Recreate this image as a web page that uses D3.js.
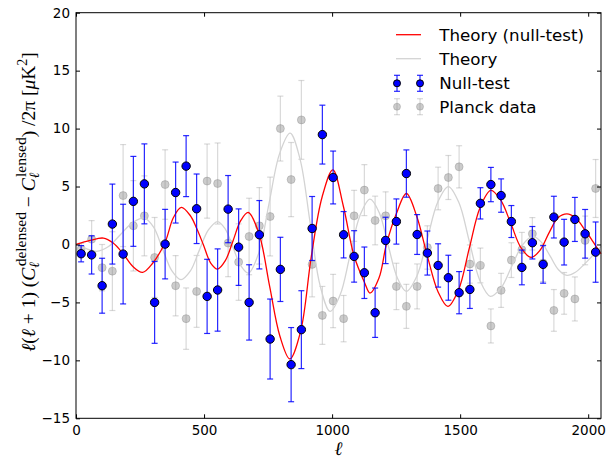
<!DOCTYPE html>
<html>
<head>
<meta charset="utf-8">
<script src="https://cdn.jsdelivr.net/npm/d3@7"></script>
<style>
  body { margin: 0; background: #fff; }
  .tick text { font-family: "DejaVu Sans", sans-serif; font-size: 13.5px; fill: #000; }
  .legendText { font-family: "DejaVu Sans", sans-serif; font-size: 16.7px; }
  .mathText { font-family: "Liberation Serif", "DejaVu Serif", serif; }
</style>
</head>
<body>
<div id="chart"></div>
<script>
var svgWidth = 615
var svgHeight = 458

var margin = {
    top: 12.7,
    bottom: 39.7,
    right: 14,
    left: 76
}

var width = svgWidth - margin.left - margin.right;
var height = svgHeight - margin.top - margin.bottom;

// multipole bin centres
var ells = [20, 61, 102, 142, 184, 224, 267, 307, 348, 389, 430, 471, 512, 553, 594, 635, 676, 716, 758, 798,
    840, 880, 922, 962, 1004, 1045, 1086, 1126, 1168, 1209, 1251, 1290, 1332, 1372, 1414, 1454, 1496, 1538, 1579, 1620,
    1660, 1700, 1741, 1782, 1824, 1866, 1906, 1948, 1988, 2029];

// null-test points
var nullVals = [-0.8, -0.9, -3.56, 1.76, -0.83, 3.72, 5.23, -5.0, 0.03, 4.48, 6.76, 3.08, -4.48, -3.93, 3.05, -0.23, -5.0, 0.84, -8.16, -2.15,
    -10.37, -7.35, 1.38, 9.48, 5.78, 0.84, -1.03, -2.44, -5.89, 0.35, 1.98, 6.12, 0.86, -0.74, -1.81, -2.87, -4.16, -3.88, 3.55, 5.17,
    4.22, 1.98, -1.98, 0.15, -1.72, 2.36, 0.2, 2.16, 0.92, -0.66];
var nullErrs = [0.7, 1.65, 2.37, 3.45, 4.3, 3.88, 3.45, 3.53, 3.0, 2.63, 2.63, 3.0, 3.2, 3.55, 2.9, 3.3, 3.25, 2.95, 3.45, 2.77,
    3.2, 3.36, 2.76, 2.54, 2.28, 2.0, 2.22, 2.22, 2.13, 2.0, 1.95, 2.04, 1.72, 1.9, 1.87, 1.94, 1.82, 1.64, 1.35, 1.48,
    1.44, 1.38, 1.5, 1.4, 1.62, 1.8, 1.97, 1.9, 2.1, 2.6];

// planck points
var planckVals = [-0.4, 0.46, -2.0, -2.3, 4.22, 1.61, 2.47, -1.12, 5.17, -3.56, -6.4, -4.05, 5.47, 5.26, 0.12, -1.52, 0.69, 1.61, 2.41, 10.0,
    5.6, 10.75, -1.72, -6.12, -4.88, -6.4, 2.47, 4.69, 2.07, 2.47, -3.62, -5.34, -3.62, -0.26, 4.83, 5.78, 6.7, -1.69, -1.81, -7.03,
    -3.96, -1.35, -0.46, 0.92, -1.6, -5.69, -4.22, -4.7, 0.35, 4.83];
var planckErrs = [0.5, 1.6, 2.0, 3.4, 4.4, 3.9, 3.45, 3.45, 3.0, 2.6, 2.65, 3.1, 3.2, 3.5, 2.9, 3.3, 3.3, 3.3, 3.4, 2.8,
    3.2, 3.4, 2.8, 2.5, 2.3, 2.0, 2.2, 2.2, 2.1, 2.07, 2.0, 1.9, 1.94, 1.87, 1.84, 1.9, 1.82, 1.65, 1.5, 1.47,
    1.47, 1.5, 1.5, 1.4, 1.6, 1.8, 1.8, 1.9, 2.1, 2.5];

// theory (null-test) curve
var nullTheoryEll = [0, 55, 107, 145, 184, 222, 260, 300, 348, 380, 411, 446, 471, 497, 526, 553, 583, 613, 643, 673,
    715, 756, 796, 835, 877, 919, 961, 1003, 1044, 1086, 1127, 1148, 1183, 1212, 1250, 1290, 1331, 1372, 1414, 1452,
    1494, 1536, 1578, 1620, 1659, 1698, 1738, 1777, 1812, 1847, 1882, 1917, 1950, 1987, 2020, 2050];
var nullTheoryVals = [0.0, 0.35, 0.55, 0.12, -0.8, -1.9, -2.41, -1.6, 0.2, 2.3, 3.2, 2.5, 1.4, 0.0, -1.6, -2.12, -1.4, 0.3, 2.05, 2.76,
    0.9, -3.6, -7.9, -9.88, -7.5, -1.0, 4.1, 6.44, 3.3, -1.0, -3.3, -4.19, -2.9, 0.0, 2.6, 4.4, 2.4, -1.0, -4.1, -5.34,
    -3.9, -0.3, 3.2, 4.66, 3.8, 1.8, -0.3, -1.12, -0.5, 1.0, 2.3, 2.64, 2.3, 1.27, 0.2, -0.8];

// theory curve
var theoryEll = [0, 40, 80, 127, 173, 220, 267, 303, 338, 374, 410, 446, 481, 517, 553, 583, 613, 643, 673, 714,
    754, 795, 836, 875, 914, 953, 992, 1031, 1070, 1109, 1148, 1184, 1219, 1255, 1290, 1331, 1372, 1413, 1454, 1495,
    1536, 1577, 1618, 1660, 1701, 1743, 1784, 1817, 1851, 1884, 1917, 1950, 1985, 2020, 2050];
var theoryVals = [0.0, -0.35, -0.6, -0.18, 0.84, 1.86, 2.28, 1.5, -0.38, -2.26, -3.04, -2.31, -0.53, 1.25, 1.98, 1.33, -0.25, -1.82, -2.47, -0.71,
    3.57, 7.84, 9.6, 7.35, 1.91, -3.53, -5.78, -4.37, -0.94, 2.5, 3.91, 2.75, -0.07, -2.89, -4.05, -2.73, 0.48, 3.68, 5.0, 3.62,
    0.26, -3.1, -4.48, -3.73, -1.9, -0.06, 0.69, 0.2, -0.99, -2.18, -2.67, -2.4, -1.7, -0.9, -0.17];

var xTicks = [0, 500, 1000, 1500, 2000];
var yTicks = [-15, -10, -5, 0, 5, 10, 15, 20];

var svg = d3.select("#chart")
    .append("svg")
    .attr("width", svgWidth)
    .attr("height", svgHeight)

var chartGroup = svg.append("g")
    .attr("transform", `translate(${margin.left}, ${margin.top})`);

var xLinearScale = d3.scaleLinear()
    .domain([0, 2050])
    .range([0, width]);

var yLinearScale = d3.scaleLinear()
    .domain([-15, 20])
    .range([height, 0]);

var plotArea = chartGroup.append("g");

function drawErrorbars(g, vals, errs, color, opacity) {
    var bars = g.append("g")
        .attr("stroke", color)
        .attr("stroke-opacity", opacity)
        .attr("stroke-width", 1.2)
        .attr("fill", "none");
    ells.forEach((l, i) => {
        var x = xLinearScale(l);
        var y0 = yLinearScale(vals[i] - errs[i]);
        var y1 = yLinearScale(vals[i] + errs[i]);
        bars.append("line").attr("x1", x).attr("x2", x).attr("y1", y0).attr("y2", y1);
        bars.append("line").attr("x1", x - 3).attr("x2", x + 3).attr("y1", y0).attr("y2", y0);
        bars.append("line").attr("x1", x - 3).attr("x2", x + 3).attr("y1", y1).attr("y2", y1);
    });
}

// planck data (behind)
drawErrorbars(plotArea, planckVals, planckErrs, "gray", 0.3);
plotArea.append("g").selectAll("circle")
    .data(planckVals)
    .enter()
    .append("circle")
    .attr("cx", (d, i) => xLinearScale(ells[i]))
    .attr("cy", d => yLinearScale(d))
    .attr("r", 4)
    .attr("fill", "gray")
    .attr("fill-opacity", 0.4)
    .attr("stroke", "gray")
    .attr("stroke-opacity", 0.35);

var line = d3.line()
    .x(d => xLinearScale(d[0]))
    .y(d => yLinearScale(d[1]))
    .curve(d3.curveCatmullRom.alpha(0.5));

plotArea.append("path")
    .datum(theoryEll.map((l, i) => [l, theoryVals[i]]))
    .attr("d", line)
    .attr("fill", "none")
    .attr("stroke", "#d3d3d3")
    .attr("stroke-width", 1.3);

plotArea.append("path")
    .datum(nullTheoryEll.map((l, i) => [l, nullTheoryVals[i]]))
    .attr("d", line)
    .attr("fill", "none")
    .attr("stroke", "red")
    .attr("stroke-width", 1.3);

// null-test data
drawErrorbars(plotArea, nullVals, nullErrs, "blue", 0.85);
plotArea.append("g").selectAll("circle")
    .data(nullVals)
    .enter()
    .append("circle")
    .attr("cx", (d, i) => xLinearScale(ells[i]))
    .attr("cy", d => yLinearScale(d))
    .attr("r", 4.2)
    .attr("fill", "blue")
    .attr("stroke", "black")
    .attr("stroke-width", 1);

// axes, ticks pointing inwards on all four sides
var bottomAxis = d3.axisBottom(xLinearScale).tickValues(xTicks).tickSizeInner(-4).tickSizeOuter(0).tickPadding(7)
    .tickFormat(d3.format("d"));
var topAxis = d3.axisTop(xLinearScale).tickValues(xTicks).tickSizeInner(-4).tickSizeOuter(0).tickFormat("");
var leftAxis = d3.axisLeft(yLinearScale).tickValues(yTicks).tickSizeInner(-4).tickSizeOuter(0).tickPadding(6);
var rightAxis = d3.axisRight(yLinearScale).tickValues(yTicks).tickSizeInner(-4).tickSizeOuter(0).tickFormat("");

chartGroup.append("g")
    .attr("transform", `translate(0, ${height})`)
    .call(bottomAxis);
chartGroup.append("g").call(topAxis);
chartGroup.append("g").call(leftAxis);
chartGroup.append("g")
    .attr("transform", `translate(${width}, 0)`)
    .call(rightAxis);

chartGroup.selectAll(".domain").remove();
chartGroup.selectAll(".tick line").attr("stroke", "#000");

chartGroup.append("rect")
    .attr("width", width)
    .attr("height", height)
    .attr("fill", "none")
    .attr("stroke", "#000")
    .attr("stroke-width", 1);

// legend
var legend = svg.append("g");
var legendRows = [41, 65, 89, 112.5];
var legendLabels = ["Theory (null-test)", "Theory", "Null-test", "Planck data"];

legend.append("line").attr("x1", 396).attr("x2", 421).attr("y1", 34.7).attr("y2", 34.7)
    .attr("stroke", "red").attr("stroke-width", 1.3);
legend.append("line").attr("x1", 396).attr("x2", 421).attr("y1", 58.7).attr("y2", 58.7)
    .attr("stroke", "#d3d3d3").attr("stroke-width", 1.3);

[[83.3, "blue", 0.85, "blue", 1, "black", 1], [106.7, "gray", 0.3, "gray", 0.4, "gray", 0.35]].forEach(r => {
    [397, 420].forEach(x => {
        var g = legend.append("g").attr("stroke", r[1]).attr("stroke-opacity", r[2]).attr("stroke-width", 1.2);
        g.append("line").attr("x1", x).attr("x2", x).attr("y1", r[0] - 8).attr("y2", r[0] + 8);
        g.append("line").attr("x1", x - 3).attr("x2", x + 3).attr("y1", r[0] - 8).attr("y2", r[0] - 8);
        g.append("line").attr("x1", x - 3).attr("x2", x + 3).attr("y1", r[0] + 8).attr("y2", r[0] + 8);
        legend.append("circle").attr("cx", x).attr("cy", r[0]).attr("r", 3.5)
            .attr("fill", r[3]).attr("fill-opacity", r[4])
            .attr("stroke", r[5]).attr("stroke-opacity", r[6]);
    });
});

legend.selectAll("text")
    .data(legendLabels)
    .enter()
    .append("text")
    .attr("class", "legendText")
    .attr("x", 439.3)
    .attr("y", (d, i) => legendRows[i])
    .text(d => d);

// axis labels
svg.append("text")
    .attr("class", "mathText")
    .attr("x", margin.left + width / 2)
    .attr("y", 455)
    .attr("text-anchor", "middle")
    .attr("font-size", "19px")
    .attr("font-style", "italic")
    .text("ℓ");

var yLabel = svg.append("text")
    .attr("class", "mathText")
    .attr("transform", "translate(35, 202) rotate(-90)")
    .attr("text-anchor", "middle")
    .attr("font-size", "19.5px");

yLabel.append("tspan").attr("font-style", "italic").text("ℓ");
yLabel.append("tspan").text("(");
yLabel.append("tspan").attr("font-style", "italic").text("ℓ");
yLabel.append("tspan").text(" + 1) (");
yLabel.append("tspan").attr("font-style", "italic").text("C");
yLabel.append("tspan").attr("font-style", "italic").attr("font-size", "14px").attr("dy", 4).text("ℓ");
yLabel.append("tspan").attr("font-size", "15.5px").attr("dx", -4.5).attr("dy", -13).text("delensed");
yLabel.append("tspan").attr("dy", 9).text(" − ");
yLabel.append("tspan").attr("font-style", "italic").text("C");
yLabel.append("tspan").attr("font-style", "italic").attr("font-size", "14px").attr("dy", 4).text("ℓ");
yLabel.append("tspan").attr("font-size", "15.5px").attr("dx", -4.5).attr("dy", -13).text("lensed");
yLabel.append("tspan").attr("dy", 9).text(") /2π  [");
yLabel.append("tspan").attr("font-style", "italic").text("μ");
yLabel.append("tspan").text("K");
yLabel.append("tspan").attr("font-size", "14px").attr("dy", -8).text("2");
yLabel.append("tspan").attr("dy", 8).text("]");
</script>
</body>
</html>
